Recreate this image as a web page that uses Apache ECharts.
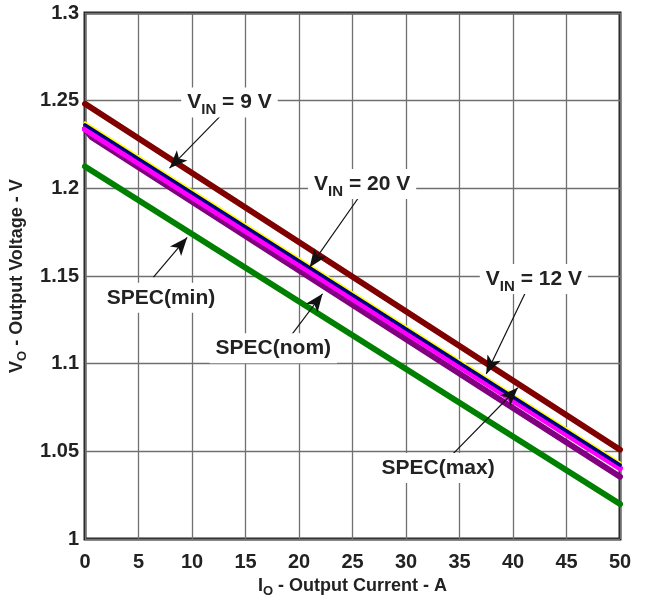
<!DOCTYPE html>
<html>
<head>
<meta charset="utf-8">
<script src="https://cdn.jsdelivr.net/npm/echarts@6/dist/echarts.min.js"></script>
<style>html,body{margin:0;padding:0;background:#fff;overflow:hidden}#c{width:647px;height:603px}</style>
</head>
<body>
<div id="c"></div>
<script>
// ---- data ----
const xTicks = [0, 5, 10, 15, 20, 25, 30, 35, 40, 45, 50];
const yTicks = [1, 1.05, 1.1, 1.15, 1.2, 1.25, 1.3];
const vin9   = [[0, 1.2482], [50, 1.0510]];
const vin20  = [[0, 1.2374], [50, 1.0434]];   // yellow
const vin12  = [[0, 1.2362], [50, 1.0422]];   // navy
const specNom = [[0, 1.2337], [50, 1.0404]];  // magenta
const specMax = [[0, 1.2340], [0.6, 1.2293], [50, 1.0356]]; // purple
const specMin = [[0, 1.2125], [50, 1.0200]];  // green

// annotation arrows: [start, tip] in data coords
const arrows = [
  [[13.3, 1.2453], [7.9, 1.2115]],
  [[26.0, 1.1985], [21.0, 1.1550]],
  [[6.4, 1.1494], [9.55, 1.1720]],
  [[19.2, 1.1156], [22.2, 1.1399]],
  [[41.5, 1.1449], [37.5, 1.0942]],
  [[34.0, 1.0462], [40.45, 1.0863]]
];
// annotation labels: [x, y, text]
const labels = [
  [13.5, 1.2490, '{v|V}{s|IN}{v| = 9 V}'],
  [25.9, 1.2025, '{v|V}{s|IN}{v| = 20 V}'],
  [7.1, 1.1376, '{v|SPEC(min)}'],
  [17.6, 1.1088, '{v|SPEC(nom)}'],
  [41.95, 1.1483, '{v|V}{s|IN}{v| = 12 V}'],
  [33.0, 1.0405, '{v|SPEC(max)}']
];

const FONT = "'Liberation Sans', Arial, sans-serif";
const rich = {
  v: { fontSize: 21, fontWeight: 'bold', fontFamily: FONT, color: '#222', lineHeight: 30, verticalAlign: 'middle' },
  s: { fontSize: 15, fontWeight: 'bold', fontFamily: FONT, color: '#222', lineHeight: 30, verticalAlign: 'bottom' }
};
const richT = {
  v: { fontSize: 18, fontWeight: 'bold', fontFamily: FONT, color: '#222', lineHeight: 24, verticalAlign: 'middle' },
  s: { fontSize: 13, fontWeight: 'bold', fontFamily: FONT, color: '#222', lineHeight: 24, verticalAlign: 'bottom' }
};

function lineSeries(data, color, width) {
  return {
    type: 'line', data: data, symbol: 'none', silent: true,
    lineStyle: { color: color, width: width, cap: 'round', join: 'round' },
    animation: false
  };
}

const chart = echarts.init(document.getElementById('c'), null, { renderer: 'canvas' });
const series = [
  lineSeries(specMin, '#008000', 6),
  lineSeries(specMax, '#800080', 6),
  lineSeries(specNom, '#ff00ff', 6),
  lineSeries(vin20, '#ffff00', 3),
  lineSeries(vin12, '#000080', 3.5),
  lineSeries(vin9, '#800000', 6),
  {
    type: 'line', data: [], silent: true, animation: false,
    markLine: {
      silent: true, animation: false,
      symbol: ['none', 'arrow'], symbolSize: [11, 18],
      lineStyle: { color: '#111', width: 1.2, type: 'solid' },
      label: { show: false },
      data: arrows.map(a => [{ coord: a[0] }, { coord: a[1] }])
    },
    markPoint: {
      silent: true, animation: false,
      symbol: 'rect', symbolSize: 1, itemStyle: { color: 'rgba(0,0,0,0)' },
      label: {
        show: true, position: 'inside', backgroundColor: '#fff',
        padding: [0, 6, 0, 6], rich: rich
      },
      data: labels.map(l => ({ coord: [l[0], l[1]], label: { formatter: l[2] } }))
    }
  }
];

chart.setOption({
  backgroundColor: '#fff',
  animation: false,
  grid: { left: 85, right: 27, top: 13, bottom: 48, show: true, borderColor: '#222', borderWidth: 3, backgroundColor: '#fff' },
  xAxis: {
    type: 'value', min: xTicks[0], max: xTicks[xTicks.length - 1], interval: 5,
    axisLine: { show: false }, axisTick: { show: false },
    splitLine: { show: true, lineStyle: { color: '#707070', width: 1.3 } },
    axisLabel: { fontSize: 20, fontWeight: 'bold', fontFamily: FONT, color: '#222', margin: 13,
      formatter: v => String(v) },
    name: '{v|I}{s|O}{v| - Output Current - A}',
    nameLocation: 'middle', nameGap: 33,
    nameTextStyle: { rich: richT }
  },
  yAxis: {
    type: 'value', min: yTicks[0], max: yTicks[yTicks.length - 1], interval: 0.05,
    axisLine: { show: false }, axisTick: { show: false },
    splitLine: { show: true, lineStyle: { color: '#707070', width: 1.3 } },
    axisLabel: { fontSize: 20, fontWeight: 'bold', fontFamily: FONT, color: '#222', margin: 6,
      formatter: v => String(parseFloat(v.toFixed(2))) },
    name: '{v|V}{s|O}{v| - Output Voltage - V}',
    nameLocation: 'middle', nameGap: 48, nameRotate: 90,
    nameTextStyle: { rich: richT }
  },
  series: series
});
</script>
</body>
</html>
